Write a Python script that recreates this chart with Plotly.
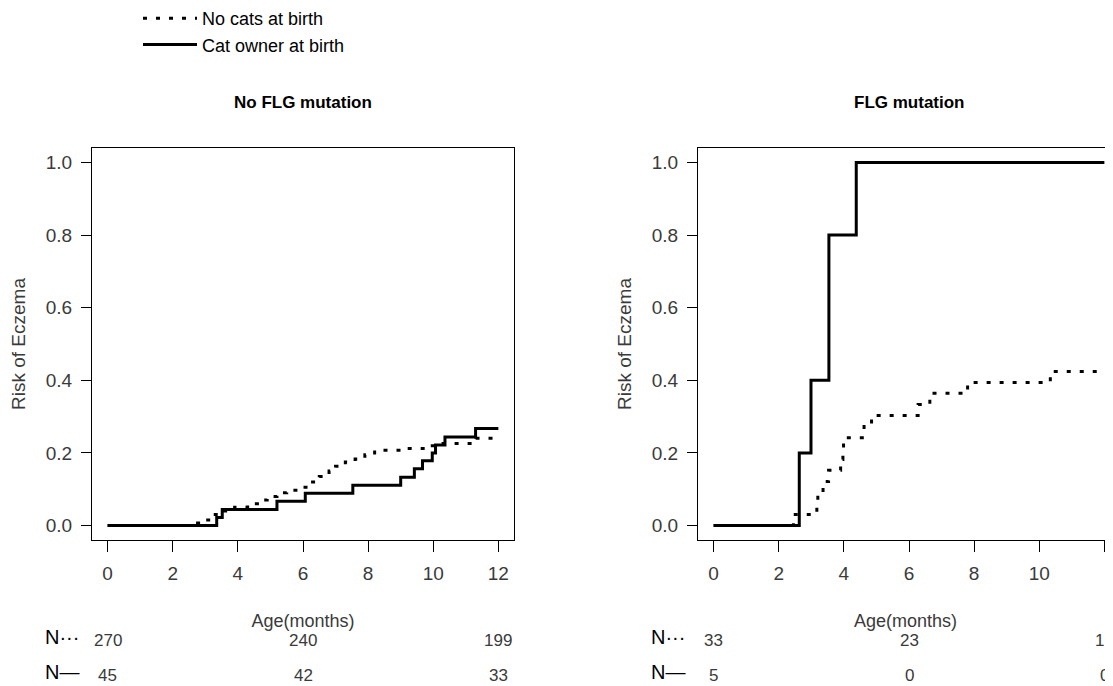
import plotly.graph_objects as go

# ---------------- data ----------------
series_names = ["No cats at birth", "Cat owner at birth"]
panel_titles = ["No FLG mutation", "FLG mutation"]

# No FLG mutation panel
noflg_nocat_t = [0, 2.6, 2.9, 3.2, 3.5, 3.9, 4.3, 4.6, 4.9, 5.2, 5.5, 5.9, 6.2, 6.5, 6.8, 7.0, 7.3, 7.6, 7.9, 8.2, 9.0, 9.9, 10.2, 11.3, 12.0]
noflg_nocat_v = [0, 0.007, 0.015, 0.03, 0.04, 0.05, 0.06, 0.07, 0.08, 0.09, 0.097, 0.105, 0.12, 0.135, 0.15, 0.163, 0.175, 0.183, 0.195, 0.207, 0.212, 0.22, 0.226, 0.24, 0.245]
noflg_cat_t = [0, 3.35, 3.52, 5.2, 6.07, 7.53, 9.0, 9.42, 9.67, 9.97, 10.07, 10.36, 11.3, 12.0]
noflg_cat_v = [0, 0.022, 0.044, 0.067, 0.089, 0.111, 0.133, 0.156, 0.178, 0.2, 0.222, 0.244, 0.267, 0.267]

# FLG mutation panel
flg_nocat_t = [0, 2.45, 3.17, 3.2, 3.36, 3.53, 3.9, 3.97, 3.99, 4.62, 4.85, 6.28, 6.64, 7.8, 10.34, 12.0]
flg_nocat_v = [0, 0.03, 0.061, 0.091, 0.121, 0.152, 0.182, 0.212, 0.242, 0.273, 0.303, 0.333, 0.364, 0.394, 0.424, 0.424]
flg_cat_t = [0, 2.63, 2.99, 3.54, 4.38, 12.0]
flg_cat_v = [0, 0.2, 0.4, 0.8, 1.0, 1.0]

# numbers at risk
risk_months = [0, 6, 12]
noflg_nocat_n = [270, 240, 199]
noflg_cat_n = [45, 42, 33]
flg_nocat_n = [33, 23, 19]
flg_cat_n = [5, 0, 0]
risk_labels = ["N···", "N—"]

x_ticks = [0, 2, 4, 6, 8, 10, 12]
y_ticks = [0.0, 0.2, 0.4, 0.6, 0.8, 1.0]

# ---------------- layout helpers ----------------
# page has an 8px body margin; figure fills the rest of the 1113x686 window
OFF = 8
W, H = 1113 - OFF, 686 - OFF


def fx(px):
    return (px - OFF) / W


def fy(py):
    return 1 - (py - OFF) / H


FONT = "Liberation Sans, Arial, sans-serif"
TICKCOL = "#3a3a3a"
DOT = "4px,9px"

fig = go.Figure()


def add_pair(t0, v0, t1, v1, xa, ya, show):
    fig.add_trace(go.Scatter(x=t0, y=v0, mode="lines", line_shape="hv",
                             line=dict(color="black", width=3, dash=DOT),
                             name=series_names[0], showlegend=show,
                             xaxis=xa, yaxis=ya))
    fig.add_trace(go.Scatter(x=t1, y=v1, mode="lines", line_shape="hv",
                             line=dict(color="black", width=3),
                             name=series_names[1], showlegend=show,
                             xaxis=xa, yaxis=ya))


add_pair(noflg_nocat_t, noflg_nocat_v, noflg_cat_t, noflg_cat_v, "x", "y", True)
add_pair(flg_nocat_t, flg_nocat_v, flg_cat_t, flg_cat_v, "x2", "y2", False)

ydom = [fy(540), fy(148)]
common_x = dict(tickvals=x_ticks, ticks="outside", ticklen=11, tickcolor="black",
                showline=True, linecolor="black", linewidth=1, showgrid=False,
                zeroline=False, ticklabelstandoff=5, automargin=False,
                tickfont=dict(family=FONT, size=19, color=TICKCOL),
                title=dict(text="Age(months)", standoff=31,
                           font=dict(family=FONT, size=18, color=TICKCOL)))
common_y = dict(tickvals=y_ticks, tickformat=".1f", ticks="outside", ticklen=10,
                tickcolor="black", showline=True, linecolor="black", linewidth=1,
                showgrid=False, zeroline=False, range=[-0.04, 1.04], domain=ydom,
                ticklabelstandoff=5, automargin=False,
                tickfont=dict(family=FONT, size=19, color=TICKCOL),
                title=dict(text="Risk of Eczema", standoff=15,
                           font=dict(family=FONT, size=19, color=TICKCOL)))

px_per_month = (514 - 92) / 12.96
fig.update_layout(
    width=W, height=H,
    margin=dict(l=0, r=0, t=0, b=0, autoexpand=False),
    paper_bgcolor="white", plot_bgcolor="white",
    font=dict(family=FONT, color="black"),
    xaxis=dict(domain=[fx(92), fx(514)], range=[-0.48, 12.48], anchor="y",
               mirror=True, **common_x),
    yaxis=dict(anchor="x", mirror=True, **common_y),
    xaxis2=dict(domain=[fx(698), 1.0],
                range=[-0.48, -0.48 + (1113 - 698) / px_per_month], anchor="y2",
                mirror=True, **common_x),
    yaxis2=dict(anchor="x2", mirror=False, **common_y),
    legend=dict(x=fx(138), y=1 + 8 / H, xanchor="left", yanchor="top",
                bgcolor="rgba(0,0,0,0)", font=dict(family=FONT, size=18, color="black"),
                tracegroupgap=0, itemwidth=54),
    showlegend=True,
)

# panel titles
fig.add_annotation(text="<b>" + panel_titles[0] + "</b>", xref="x domain", yref="paper",
                   x=0.5, y=fy(102), xanchor="center", yanchor="middle", showarrow=False,
                   font=dict(family=FONT, size=17, color="black"))
fig.add_annotation(text="<b>" + panel_titles[1] + "</b>", xref="x2", yref="paper",
                   x=6, y=fy(102), xanchor="center", yanchor="middle", showarrow=False,
                   font=dict(family=FONT, size=17, color="black"))


# numbers at risk
def risk_rows(xref, label_right, n_dot, n_solid):
    for label, vals, ylab, yval in ((risk_labels[0], n_dot, 637, 640),
                                    (risk_labels[1], n_solid, 672, 675)):
        fig.add_annotation(text=label, xref="paper", yref="paper", x=fx(label_right),
                           y=fy(ylab), xanchor="right", yanchor="middle", showarrow=False,
                           font=dict(family=FONT, size=20, color="black"))
        for m, n in zip(risk_months, vals):
            fig.add_annotation(text=str(n), xref=xref, yref="paper", x=m, y=fy(yval),
                               xanchor="center", yanchor="middle", showarrow=False,
                               font=dict(family=FONT, size=17, color=TICKCOL))


risk_rows("x", 81, noflg_nocat_n, noflg_cat_n)
risk_rows("x2", 687, flg_nocat_n, flg_cat_n)

fig.write_html("out.html")
